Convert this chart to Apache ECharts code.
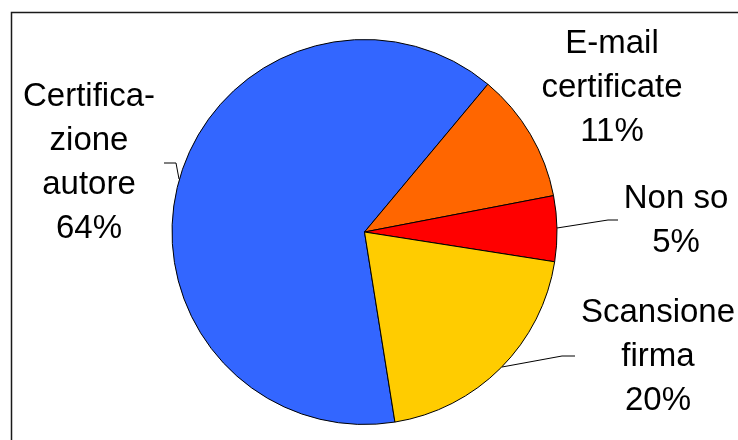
<!DOCTYPE html>
<html>
<head>
<meta charset="utf-8">
<script src="https://cdn.jsdelivr.net/npm/echarts@6/dist/echarts.min.js"></script>
<style>
html,body{margin:0;padding:0;background:#fff;}
#chart{width:738px;height:440px;}
</style>
</head>
<body>
<div id="chart"></div>
<script>
// Data
const categories = ['Certifica-\nzione\nautore', 'E-mail\ncertificate', 'Non so', 'Scansione\nfirma'];
const values = [63.6, 10.9, 5.5, 20.0];
const colors = ['#3366FF', '#FF6600', '#FF0000', '#FFCC00'];

// Label placement (layout only)
const labelPos = [[89, 163], [612, 88], [676, 221], [658, 357]];
const leaderPts = [
  [[179, 179], [176, 163], [164, 163]],
  null,
  [[557, 228], [608, 220], [618, 220]],
  [[502, 367], [562, 356], [575, 356]]
];

const chart = echarts.init(document.getElementById('chart'), null, {renderer: 'canvas'});
chart.setOption({
  animation: false,
  backgroundColor: '#ffffff',
  graphic: [{
    type: 'rect',
    shape: {x: 11.5, y: 12.5, width: 800, height: 500},
    style: {fill: 'none', stroke: '#1a1a1a', lineWidth: 1.5},
    silent: true,
    z: -1
  }],
  series: [{
    type: 'pie',
    center: [364.5, 232],
    radius: 192.5,
    startAngle: 279.1,
    clockwise: true,
    avoidLabelOverlap: false,
    percentPrecision: 0,
    itemStyle: {borderColor: '#000', borderWidth: 1},
    label: {
      show: true,
      position: 'outside',
      formatter: '{b}\n{d}%',
      fontFamily: 'Liberation Sans, Arial, sans-serif',
      fontSize: 33,
      lineHeight: 44,
      color: '#000',
      align: 'center'
    },
    labelLine: {show: true, lineStyle: {color: '#000', width: 1}},
    labelLayout: function (p) {
      const i = p.dataIndex;
      const o = {x: labelPos[i][0], y: labelPos[i][1], align: 'center', verticalAlign: 'middle'};
      if (leaderPts[i]) o.labelLinePoints = leaderPts[i];
      return o;
    },
    emphasis: {disabled: true},
    data: categories.map((c, i) => ({
      name: c,
      value: values[i],
      itemStyle: {color: colors[i]},
      labelLine: {show: leaderPts[i] !== null}
    }))
  }]
});
</script>
</body>
</html>
